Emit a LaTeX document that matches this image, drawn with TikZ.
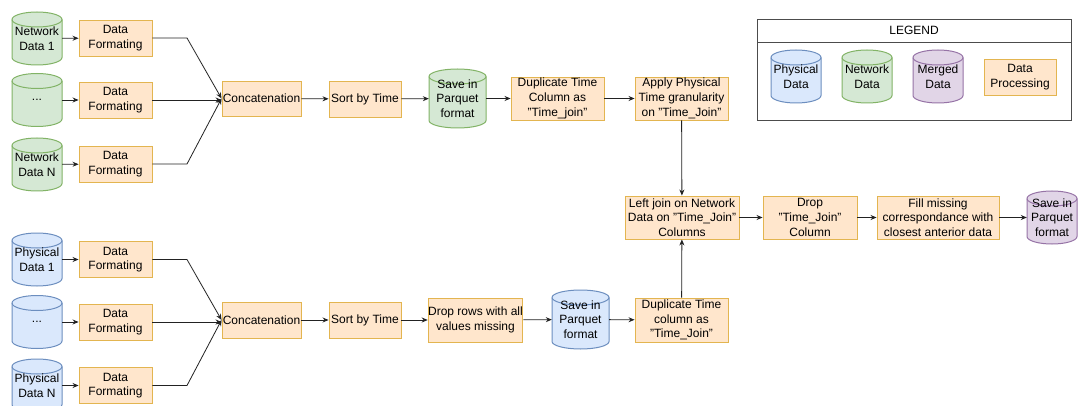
\documentclass[tikz,border=0pt]{standalone}
\usepackage{fontspec}
\setmainfont{Liberation Sans}
\usetikzlibrary{arrows.meta}
\definecolor{procfill}{HTML}{FFE6CC}
\definecolor{procdraw}{HTML}{E3B550}
\definecolor{netfill}{HTML}{D5E8D4}
\definecolor{netdraw}{HTML}{82B366}
\definecolor{phyfill}{HTML}{DAE8FC}
\definecolor{phydraw}{HTML}{6C8EBF}
\definecolor{merfill}{HTML}{E1D5E7}
\definecolor{merdraw}{HTML}{9673A6}
\definecolor{linec}{HTML}{222222}
\tikzset{
  txt/.style={font=\fontsize{12}{14.7}\selectfont, align=center, inner sep=0pt, text=black},
  proc/.style={txt, draw=procdraw, fill=procfill, line width=0.9pt, rectangle},
  netc/.style={draw=netdraw, fill=netfill, line width=1pt},
  phyc/.style={draw=phydraw, fill=phyfill, line width=1pt},
  merc/.style={draw=merdraw, fill=merfill, line width=1pt},
  conn/.style={draw=linec, line width=0.8pt, -{Stealth[length=6pt,width=5pt]}},
}
% name, cx, cy, w, h, style, text
\newcommand{\mycyl}[7]{%
  \pgfmathsetmacro\hw{#4/2}%
  \pgfmathsetmacro\xl{#2-#4/2}%
  \pgfmathsetmacro\xr{#2+#4/2}%
  \pgfmathsetmacro\yt{#3-#5/2+7.5}%
  \pgfmathsetmacro\yb{#3+#5/2-7.5}%
  \path[#6] (\xl,\yt) -- (\xl,\yb) arc[start angle=180,end angle=360,x radius=\hw pt,y radius=7.5pt] -- (\xr,\yt) arc[start angle=0,end angle=180,x radius=\hw pt,y radius=7.5pt] -- cycle;
  \draw[#6,fill=none] (\xl,\yt) arc[start angle=180,end angle=360,x radius=\hw pt,y radius=7.5pt];
  \node[txt, rectangle, minimum width=#4pt, minimum height=#5pt] (#1) at (#2,#3) {};
  \node[txt] at (#2,{#3}) {#7};
}
\begin{document}
\begin{tikzpicture}[x=1pt,y=-1pt]
\useasboundingbox (0,0) rectangle (1081,406);
\clip (0,0) rectangle (1081,406);
\fill[white] (0,0) rectangle (1081,406);

% ---------- Network branch ----------
\mycyl{n1}{37}{38.5}{50}{53}{netc}{Network\\Data 1}
\mycyl{n2}{37}{100}{50}{53}{netc}{...}
\mycyl{n3}{37}{164.5}{50}{53}{netc}{Network\\Data N}
\node[proc, minimum width=73pt, minimum height=36pt] (f1) at (115.5,38) {Data\\Formating};
\node[proc, minimum width=73pt, minimum height=36pt] (f2) at (115.5,100) {Data\\Formating};
\node[proc, minimum width=73pt, minimum height=36pt] (f3) at (115.5,164) {Data\\Formating};
\node[proc, minimum width=79pt, minimum height=35pt] (c1) at (261.5,98.5) {Concatenation};
\node[proc, minimum width=72pt, minimum height=36pt] (s1) at (365,99) {Sort by Time};
\mycyl{p1}{457.5}{98.5}{57}{59}{netc}{Save in\\Parquet\\format}
\node[proc, minimum width=93pt, minimum height=43pt] (d1) at (557.5,98.5) {Duplicate Time\\Column as\\"Time\_join"};
\node[proc, minimum width=93pt, minimum height=43pt] (a1) at (681.5,98.5) {Apply Physical\\Time granularity\\on "Time\_Join"};

\coordinate (k1) at (187,38);
\coordinate (k3) at (187,164);
\draw[conn] (n1) -- (f1);
\draw[conn] (n2) -- (f2);
\draw[conn] (n3) -- (f3);
\draw[conn] (f1.east) -- (k1) -- (c1.west);
\draw[conn] (f2.east) -- (c1.west |- f2.east);
\draw[conn] (f3.east) -- (k3) -- (c1.west);
\draw[conn] (c1) -- (s1);
\draw[conn] (s1) -- (p1);
\draw[conn] (p1) -- (d1);
\draw[conn] (d1) -- (a1);

% ---------- Physical branch ----------
\mycyl{q1}{37}{259.5}{50}{53}{phyc}{Physical\\Data 1}
\mycyl{q2}{37}{322}{50}{53}{phyc}{...}
\mycyl{q3}{37}{385.5}{50}{53}{phyc}{Physical\\Data N}
\node[proc, minimum width=73pt, minimum height=36pt] (g1) at (115.5,259.5) {Data\\Formating};
\node[proc, minimum width=73pt, minimum height=36pt] (g2) at (115.5,322) {Data\\Formating};
\node[proc, minimum width=73pt, minimum height=36pt] (g3) at (115.5,385.5) {Data\\Formating};
\node[proc, minimum width=79pt, minimum height=36pt] (c2) at (261.5,320) {Concatenation};
\node[proc, minimum width=72pt, minimum height=36pt] (s2) at (365,320) {Sort by Time};
\node[proc, minimum width=93pt, minimum height=44pt] (r2) at (475.5,320) {Drop rows with all\\values missing};
\mycyl{p2}{580.5}{319.5}{57}{59}{phyc}{Save in\\Parquet\\format}
\node[proc, minimum width=93pt, minimum height=44pt] (d2) at (681.5,320) {Duplicate Time\\column as\\"Time\_Join"};

\coordinate (m1) at (187,259.5);
\coordinate (m3) at (187,385.5);
\draw[conn] (q1) -- (g1);
\draw[conn] (q2) -- (g2);
\draw[conn] (q3) -- (g3);
\draw[conn] (g1.east) -- (m1) -- (c2.west);
\draw[conn] (g2.east) -- (c2.west |- g2.east);
\draw[conn] (g3.east) -- (m3) -- (c2.west);
\draw[conn] (c2) -- (s2);
\draw[conn] (s2) -- (r2);
\draw[conn] (r2) -- (p2);
\draw[conn] (p2) -- (d2);

% ---------- Merge ----------
\node[proc, minimum width=114pt, minimum height=43pt] (lj) at (682,217.5) {Left join on Network\\Data on "Time\_Join"\\Columns};
\node[proc, minimum width=94pt, minimum height=43pt] (dr) at (810,217.5) {Drop\\"Time\_Join"\\Column};
\node[proc, minimum width=122pt, minimum height=43pt] (fm) at (938,217.5) {Fill missing\\correspondance with\\closest anterior data};
\mycyl{pm}{1052}{217.5}{50}{53}{merc}{Save in\\Parquet\\format}
\draw[conn] (a1) -- (lj);
\draw[conn] (d2) -- (lj);
\draw[conn] (lj) -- (dr);
\draw[conn] (dr) -- (fm);
\draw[conn] (fm) -- (pm);

% ---------- Legend ----------
\node[draw=black!70, line width=0.8pt, minimum width=314pt, minimum height=101pt, inner sep=0pt] (lg) at (914,69.5) {};
\draw[black!70, line width=0.8pt] (757,42) -- (1071,42);
\node[txt] (lgt) at (914,30.5) {LEGEND};
\mycyl{l1}{796}{76.5}{50}{53}{phyc}{Physical\\Data}
\mycyl{l2}{867}{76.5}{50}{53}{netc}{Network\\Data}
\mycyl{l3}{938}{76.5}{50}{53}{merc}{Merged\\Data}
\node[proc, minimum width=72pt, minimum height=36pt] (l4) at (1020,77) {Data\\Processing};
\end{tikzpicture}
\end{document}
